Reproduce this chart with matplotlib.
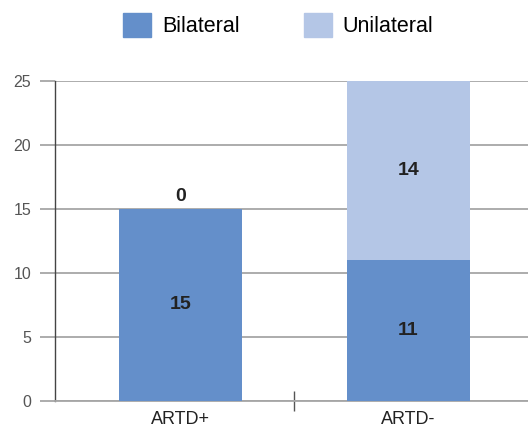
import matplotlib.pyplot as plt
from matplotlib.patches import Patch

plt.rcParams['font.family'] = ['Liberation Sans', 'DejaVu Sans']

categories = ['ARTD+', 'ARTD-']
bilateral = [15, 11]
unilateral = [0, 14]
series_names = ['Bilateral', 'Unilateral']
colors = ['#648fca', '#b4c6e6']

fig = plt.figure(figsize=(5.28, 4.32), dpi=100)
ax = fig.add_axes([0.104, 0.072, 0.896, 0.741])

x = [0, 1]
w = 0.54
ax.bar(x, bilateral, w, color=colors[0], zorder=3)
ax.bar(x, unilateral, w, bottom=bilateral, color=colors[1], zorder=3)

for xi, b, u in zip(x, bilateral, unilateral):
    ax.text(xi, b / 2, str(b), ha='center', va='center', fontsize=14,
            fontweight='bold', color='#222222', zorder=4)
    if u == 0:
        ax.text(xi, b + 0.3, str(u), ha='center', va='bottom', fontsize=14,
                fontweight='bold', color='#222222', zorder=4)
    else:
        ax.text(xi, b + u / 2, str(u), ha='center', va='center', fontsize=14,
                fontweight='bold', color='#222222', zorder=4)

ax.set_xlim(-0.55, 1.524)
ax.set_ylim(0, 25)
ax.set_yticks([0, 5, 10, 15, 20, 25])
ax.yaxis.grid(True, color='#a6a6a6', linewidth=1.3, zorder=1)
ax.tick_params(axis='y', length=11, color='#a6a6a6', width=1.3,
               labelsize=11.5, labelcolor='#555555', pad=6)

ax.set_xticks([0.5])
ax.set_xticklabels([''])
ax.set_xticks(x, minor=True)
ax.set_xticklabels(categories, minor=True)
ax.tick_params(axis='x', which='major', direction='inout', length=15,
               color='#555555', width=1)
ax.tick_params(axis='x', which='minor', length=0, labelsize=13,
               labelcolor='#222222', pad=7)

for s in ['top', 'right']:
    ax.spines[s].set_visible(False)
ax.spines['left'].set_color('#444444')
ax.spines['left'].set_linewidth(1)
ax.spines['bottom'].set_color('#a6a6a6')
ax.spines['bottom'].set_linewidth(1.3)

handles = [Patch(color=c, label=n) for c, n in zip(colors, series_names)]
fig.legend(handles=handles, loc='upper center', bbox_to_anchor=(0.527, 1.015),
           ncol=2, frameon=False, fontsize=15.5, handlelength=1.3,
           handleheight=1.35, handletextpad=0.5, columnspacing=3.0)

fig.savefig('out.png', dpi=100)
